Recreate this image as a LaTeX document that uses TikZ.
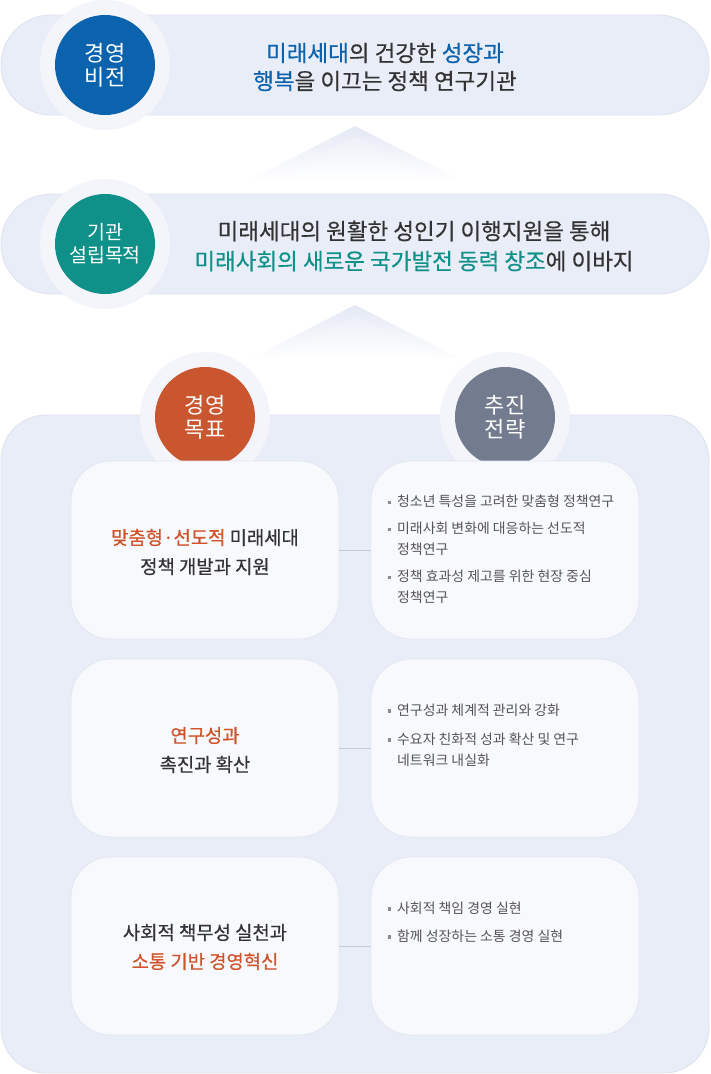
\documentclass[tikz,border=0pt]{standalone}
\usepackage{fontspec}
\setmainfont{Noto Sans CJK KR}
\newfontfamily\krmed[FakeBold=0.5]{Noto Sans CJK KR}
\definecolor{blueC}{HTML}{0B62AD}
\definecolor{tealC}{HTML}{0F9189}
\definecolor{orangeC}{HTML}{C9562E}
\definecolor{orangeT}{HTML}{D0532A}
\definecolor{grayC}{HTML}{737B8E}
\definecolor{pillC}{HTML}{E9EDF8}
\definecolor{pillB}{HTML}{DDE2EF}
\definecolor{haloC}{HTML}{F3F5FB}
\definecolor{boxC}{HTML}{F8F9FD}
\definecolor{boxB}{HTML}{E3E7F1}
\definecolor{lineC}{HTML}{C5CBDB}
\definecolor{textC}{HTML}{333333}
\definecolor{bulT}{HTML}{555555}
\definecolor{bulC}{HTML}{8A8A8A}
\definecolor{chevC}{HTML}{E4E8F5}
\definecolor{chevD}{HTML}{EDF0F8}
\newcommand{\bul}{\makebox[9pt][l]{\raisebox{3.2pt}{\textcolor{bulC}{\rule{3.1pt}{3.1pt}}}}}
\newcommand{\ind}{\hspace*{9pt}}
\begin{document}
\begin{tikzpicture}[x=1pt,y=-1pt,
  pill/.style={draw=pillB, line width=0.8pt, fill=pillC, rectangle, rounded corners=50pt, inner sep=0pt, minimum width=708pt, minimum height=100pt},
  halo/.style={circle, fill=haloC, minimum size=130pt, inner sep=0pt},
  badge/.style={circle, minimum size=100pt, inner sep=0pt, text=white, align=center, font=\fontsize{22pt}{25pt}\selectfont},
  headtext/.style={align=center, text=textC, font=\krmed\fontsize{22.5pt}{28pt}\selectfont},
  panel/.style={draw=pillB, line width=0.8pt, fill=pillC, rectangle, rounded corners=45pt, inner sep=0pt, minimum width=708pt, minimum height=658pt},
  goalbox/.style={draw=boxB, line width=0.8pt, fill=boxC, rectangle, rounded corners=40pt, inner sep=0pt, minimum width=268pt, minimum height=178pt},
  goaltext/.style={align=center, text=textC, font=\krmed\fontsize{18.8pt}{29pt}\selectfont},
  strattext/.style={align=left, text=bulT, anchor=north west, inner sep=0pt, font=\fontsize{13.9pt}{21pt}\selectfont},
  conn/.style={draw=lineC, line width=0.8pt}
]
\useasboundingbox (0,0) rectangle (710,1074);

% vision pill
\node[pill] (p1) at (355,65) {};
\node[halo] (h1) at (105,65) {};
\node[badge, fill=blueC] (b1) at (105,65) {경영\\[-1pt]비전};
\node[headtext] (t1) at (385,67) {\textcolor{blueC}{미래세대}의 건강한 \textcolor{blueC}{성장과}\\\textcolor{blueC}{행복}을 이끄는 정책 연구기관};

% chevron 1
\shade[top color=chevC, bottom color=white] (355,126) -- (463,181) -- (247,181) -- cycle;
\shade[top color=chevD, bottom color=white] (355,137) -- (440,181) -- (270,181) -- cycle;

% purpose pill
\node[pill] (p2) at (355,244) {};
\node[halo] (h2) at (105,244) {};
\node[badge, fill=tealC, font=\fontsize{19.5pt}{24pt}\selectfont] (b2) at (105,244) {기관\\[-1pt]설립목적};
\node[headtext, font=\krmed\fontsize{22.5pt}{30pt}\selectfont] (t2) at (414,246) {미래세대의 원활한 성인기 이행지원을 통해\\\textcolor{tealC}{미래사회의 새로운 국가발전 동력 창조}에 이바지};

% chevron 2
\shade[top color=chevC, bottom color=white] (355,305) -- (463,360) -- (247,360) -- cycle;
\shade[top color=chevD, bottom color=white] (355,316) -- (440,360) -- (270,360) -- cycle;

% panel
\node[panel] (pan) at (355,744) {};

% headers
\node[halo] (h3) at (205,417) {};
\node[badge, fill=orangeC] (b3) at (205,417) {경영\\[-1pt]목표};
\node[halo] (h4) at (505,417) {};
\node[badge, fill=grayC] (b4) at (505,417) {추진\\[-1pt]전략};

% boxes
\node[goalbox] (g1) at (205,550) {};
\node[goalbox] (s1) at (505,550) {};
\node[goalbox] (g2) at (205,748) {};
\node[goalbox] (s2) at (505,748) {};
\node[goalbox] (g3) at (205,946) {};
\node[goalbox] (s3) at (505,946) {};

\draw[conn] (g1.east) -- (s1.west);
\draw[conn] (g2.east) -- (s2.west);
\draw[conn] (g3.east) -- (s3.west);

% goal texts
\node[goaltext] (gt1) at (205,552) {\textcolor{orangeT}{맞춤형·선도적} 미래세대\\정책 개발과 지원};
\node[goaltext] (gt2) at (205,750) {\textcolor{orangeT}{연구성과}\\촉진과 확산};
\node[goaltext] (gt3) at (205,947) {사회적 책무성 실천과\\\textcolor{orangeT}{소통 기반 경영혁신}};

% strategy texts
\node[strattext] (st1) at (388,495) {\bul 청소년 특성을 고려한 맞춤형 정책연구\\[6pt]\bul 미래사회 변화에 대응하는 선도적\\\ind 정책연구\\[6pt]\bul 정책 효과성 제고를 위한 현장 중심\\\ind 정책연구};
\node[strattext] (st2) at (388,704) {\bul 연구성과 체계적 관리와 강화\\[8pt]\bul 수요자 친화적 성과 확산 및 연구\\\ind 네트워크 내실화};
\node[strattext] (st3) at (388,902) {\bul 사회적 책임 경영 실현\\[7pt]\bul 함께 성장하는 소통 경영 실현};
\end{tikzpicture}
\end{document}
